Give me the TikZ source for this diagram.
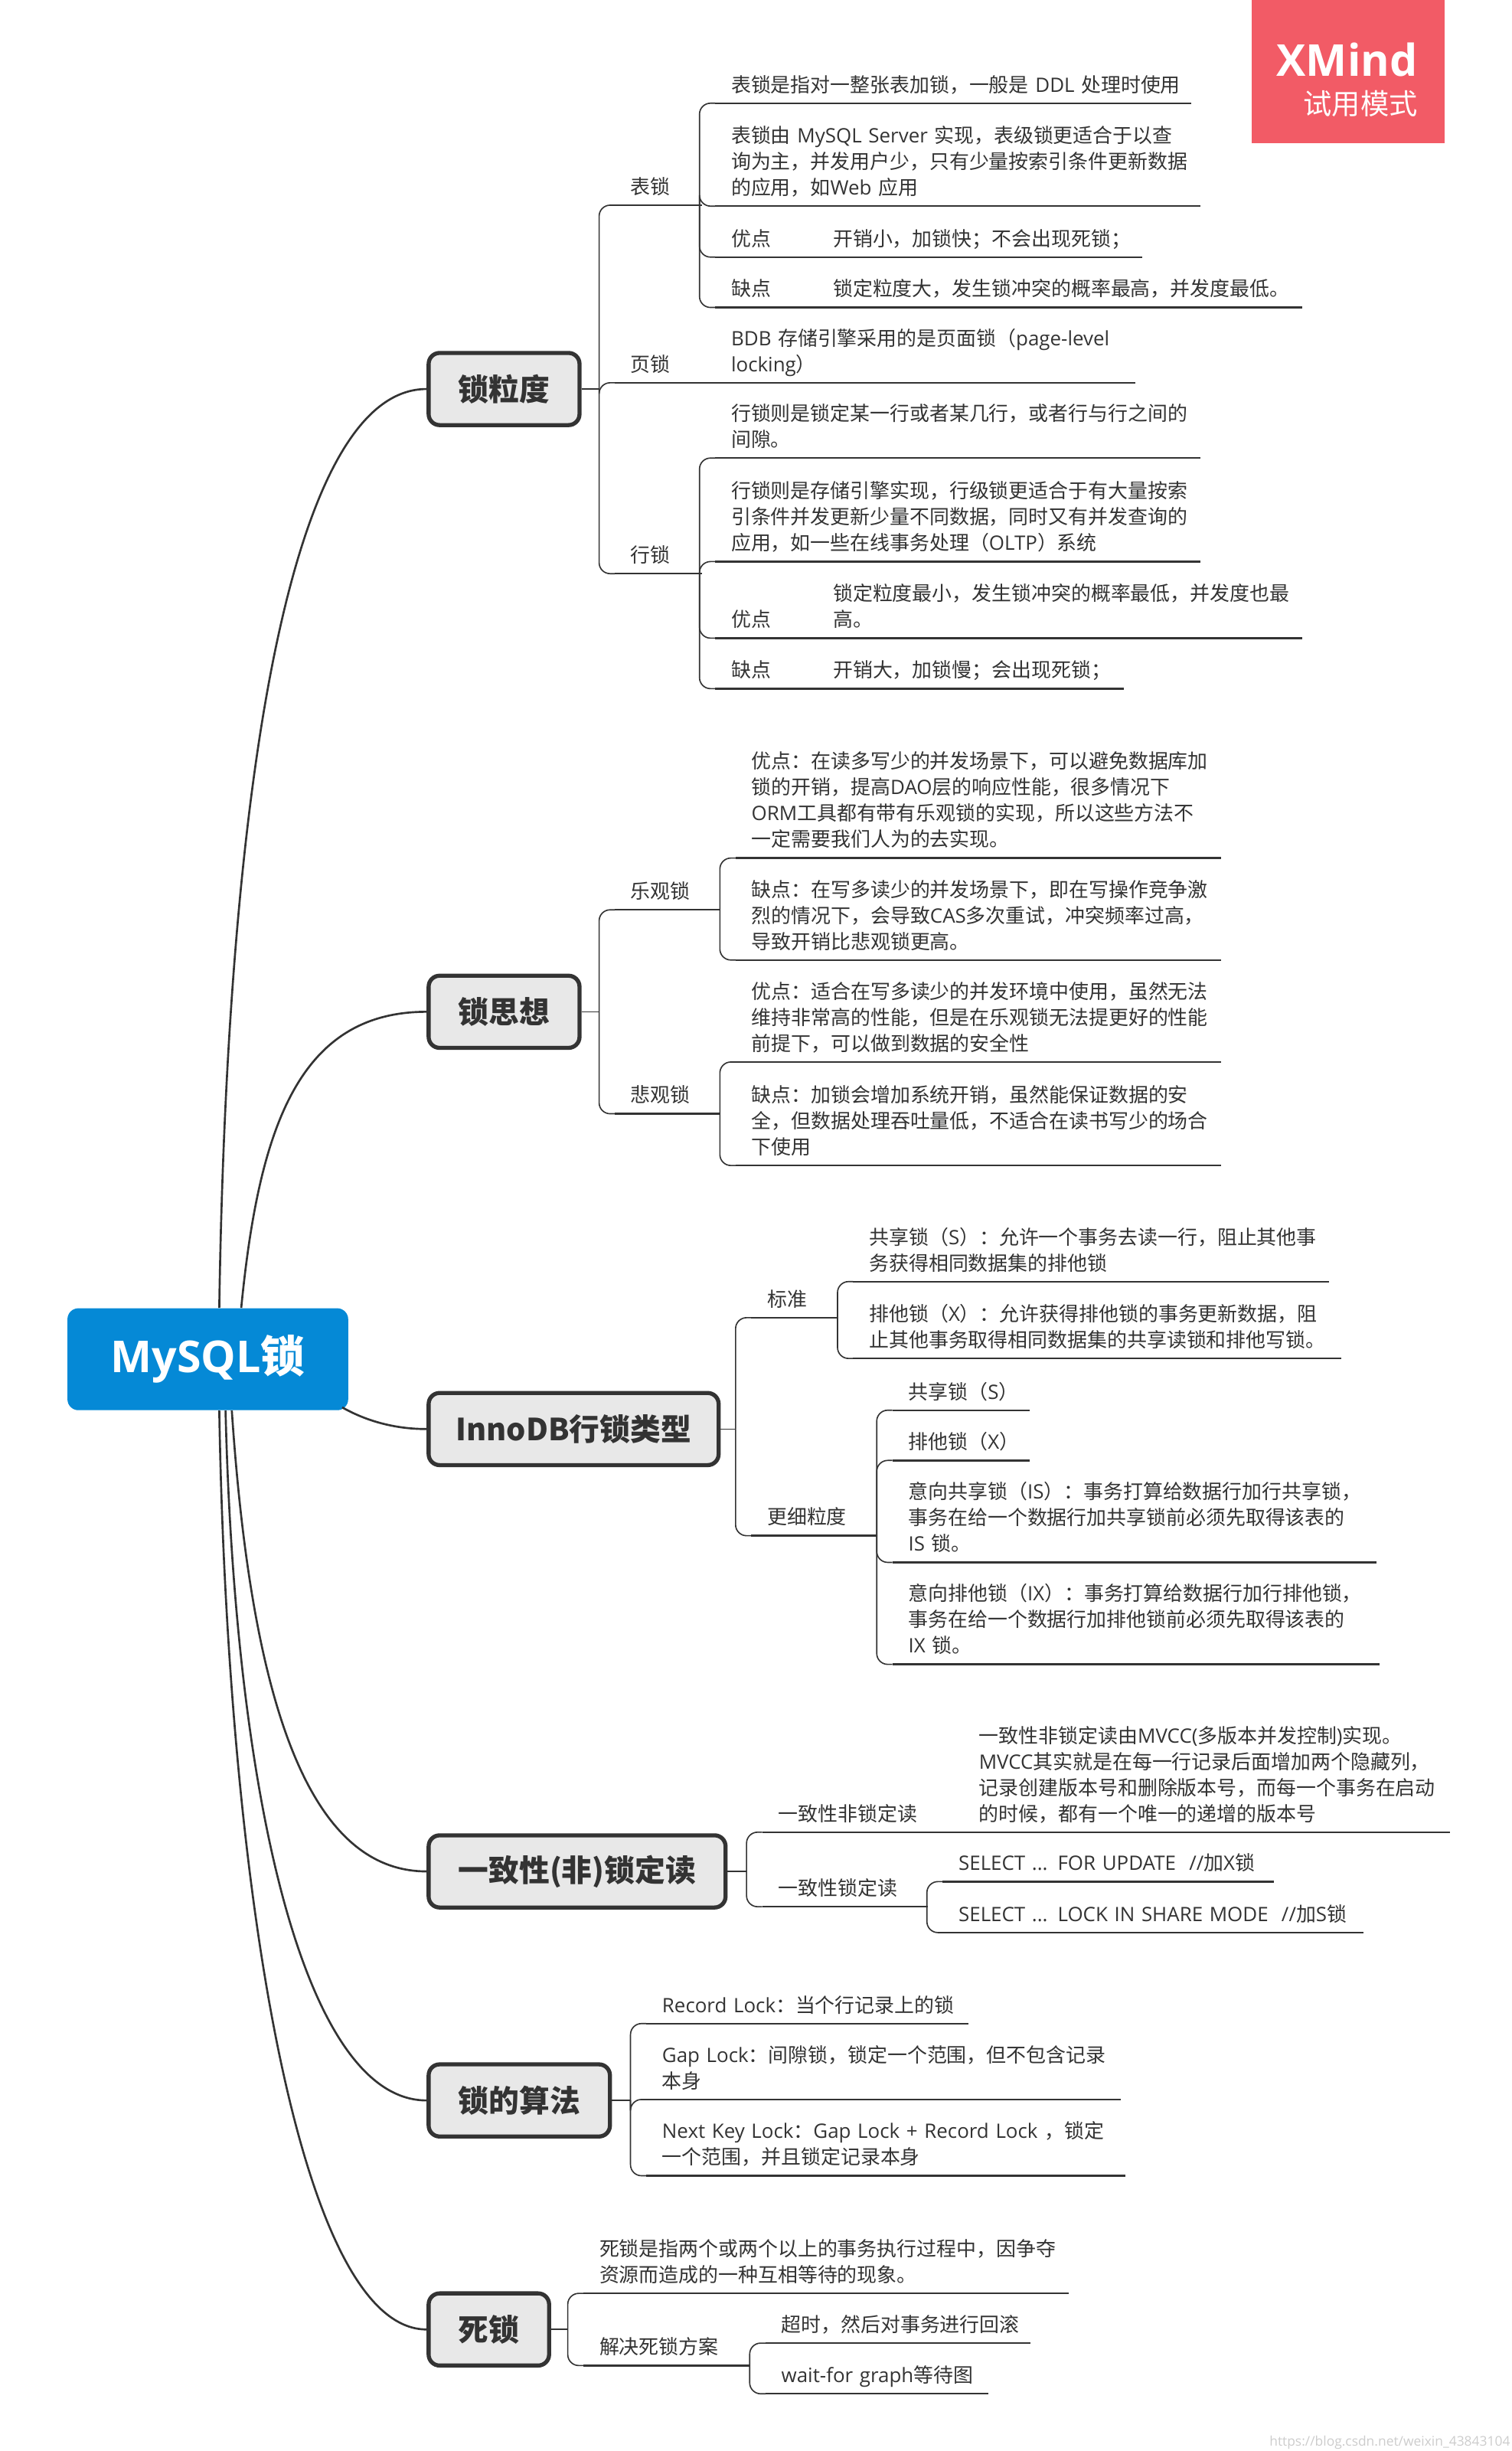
\documentclass[tikz,border=0pt]{standalone}
\usepackage{fontspec}
\setmainfont{Noto Sans CJK SC}
\newfontfamily\latfont{Open Sans}
\usepackage{xcolor}
\usetikzlibrary{calc}
\definecolor{ink}{HTML}{333333}
\definecolor{rootblue}{HTML}{0589D6}
\definecolor{topicgray}{HTML}{E8E8E8}
\definecolor{trialred}{HTML}{F25B66}
\tikzset{
  rootbox/.style={fill=rootblue, rounded corners=7pt, text=white, font=\fontsize{28}{32}\selectfont\bfseries, inner sep=0pt},
  topicbox/.style={draw=ink, line width=2.6pt, fill=topicgray, rounded corners=7pt, text=ink, minimum height=46pt, inner xsep=19pt, font=\fontsize{19.4}{24}\selectfont\bfseries},
  leaf/.style={anchor=south west, align=left, inner xsep=10pt, inner ysep=2pt, text=ink, font=\fontsize{12.65}{16.6}\selectfont},
  rootline/.style={draw=ink, line width=1.3pt},
  branch/.style={draw=ink, line width=.8pt},
  underl/.style={draw=ink, line width=1.2pt}
}
\newcommand{\en}[1]{{\latfont #1}}
\newcommand{\leaf}[4]{\node[leaf, text width=#3pt-20pt] (#1) at #2 {\makebox[\linewidth][l]{\begin{tabular}[b]{@{}l@{}}#4\end{tabular}}};\draw[underl] (#1.south west)--(#1.south east);}
\newcommand{\twig}[2]{\foreach \kid in {#2}{\draw[branch] (#1)--([xshift=-10pt]#1 -| \kid.south west);\draw[branch, rounded corners=7pt] ([xshift=-10pt]#1 -| \kid.south west) |- (\kid.south west);}}
\newcommand{\tag}[2]{\makebox[65pt][l]{#1}\begin{tabular}[b]{@{}l@{}}#2\end{tabular}}
\begin{document}
\begin{tikzpicture}[x=1pt,y=-1pt]
\useasboundingbox (0,0) rectangle (964,1562.5);
\node[fill=trialred, minimum width=123pt, minimum height=91pt, anchor=north west] (trial) at (798,0) {};
\node[anchor=east, text=white, font=\fontsize{28}{34}\selectfont\latfont\bfseries, inner sep=0pt] (trialname) at (904,38) {XMind};
\node[anchor=east, text=white, font=\fontsize{18.2}{22}\selectfont, inner sep=0pt] (trialmode) at (904,66) {试用模式};
\node[rootbox, minimum width=179pt, minimum height=65pt] (root) at (132.5,866.5) {\en{MySQL}锁};
\node[topicbox, anchor=west] (lidu) at (272,248) {锁粒度};
\node[topicbox, anchor=west] (sixiang) at (272,645) {锁思想};
\node[topicbox, anchor=west, inner xsep=17.5pt] (innodb) at (272,911) {InnoDB行锁类型};
\node[topicbox, anchor=west] (yizhi) at (272,1193) {一致性(非)锁定读};
\node[topicbox, anchor=west] (suanfa) at (272,1339) {锁的算法};
\node[topicbox, anchor=west] (sisuo) at (272,1485) {死锁};
\draw[rootline] ($(root.north west)+(97,0)$) .. controls (145,500) and (185,248) .. (lidu.west);
\draw[rootline] ($(root.north west)+(111,0)$) .. controls (165,720) and (190,645) .. (sixiang.west);
\draw[rootline] ($(root.south east)+(-4,-2)$) .. controls (232,905) and (250,911) .. (innodb.west);
\draw[rootline] ($(root.south west)+(105,0)$) .. controls (160,1080) and (195,1193) .. (yizhi.west);
\draw[rootline] ($(root.south west)+(101,0)$) .. controls (150,1150) and (195,1339) .. (suanfa.west);
\draw[rootline] ($(root.south west)+(97,0)$) .. controls (145,1200) and (190,1485) .. (sisuo.west);
% first topic
\leaf{biao}{(392,130.8)}{55}{表锁}
\leaf{ye}{(392,244)}{64}{页锁}
\leaf{hang}{(392,365.7)}{55}{行锁}
\twig{lidu.east}{biao,ye,hang}
\leaf{biaoa}{(456,65.8)}{303}{表锁是指对一整张表加锁，一般是 \en{DDL} 处理时使用}
\leaf{biaob}{(456,131.4)}{309}{表锁由 \en{MySQL Server} 实现，表级锁更适合于以查\\询为主，并发用户少，只有少量按索引条件更新数据\\的应用，如\en{Web} 应用}
\leaf{biaoc}{(456,163.9)}{272}{\tag{优点}{开销小，加锁快；不会出现死锁；}}
\leaf{biaod}{(456,196)}{374}{\tag{缺点}{锁定粒度大，发生锁冲突的概率最高，并发度最低。}}
\twig{biao.south east}{biaoa,biaob,biaoc,biaod}
\leaf{yea}{(456,244)}{267.6}{\en{BDB} 存储引擎采用的是页面锁（\en{page-level}\\\en{locking}）}
\draw[branch] (ye.south east)--(yea.south west);
\leaf{hanga}{(456,292)}{309}{行锁则是锁定某一行或者某几行，或者行与行之间的\\间隙。}
\leaf{hangb}{(456,358)}{309}{行锁则是存储引擎实现，行级锁更适合于有大量按索\\引条件并发更新少量不同数据，同时又有并发查询的\\应用，如一些在线事务处理（\en{OLTP}）系统}
\leaf{hangc}{(456,406.8)}{374}{\tag{优点}{锁定粒度最小，发生锁冲突的概率最低，并发度也最\\高。}}
\leaf{hangd}{(456,439)}{260}{\tag{缺点}{开销大，加锁慢；会出现死锁；}}
\twig{hang.south east}{hanga,hangb,hangc,hangd}
% second topic
\leaf{le}{(392,580)}{67}{乐观锁}
\leaf{bei}{(392,710)}{67}{悲观锁}
\twig{sixiang.east}{le,bei}
\leaf{lea}{(469,547)}{309}{优点：在读多写少的并发场景下，可以避免数据库加\\锁的开销，提高\en{DAO}层的响应性能，很多情况下\\\en{ORM}工具都有带有乐观锁的实现，所以这些方法不\\一定需要我们人为的去实现。}
\leaf{leb}{(469,612)}{309}{缺点：在写多读少的并发场景下，即在写操作竞争激\\烈的情况下，会导致\en{CAS}多次重试，冲突频率过高，\\导致开销比悲观锁更高。}
\twig{le.south east}{lea,leb}
\leaf{beia}{(469,677)}{309}{优点：适合在写多读少的并发环境中使用，虽然无法\\维持非常高的性能，但是在乐观锁无法提更好的性能\\前提下，可以做到数据的安全性}
\leaf{beib}{(469,743)}{309}{缺点：加锁会增加系统开销，虽然能保证数据的安\\全，但数据处理吞吐量低，不适合在读书写少的场合\\下使用}
\twig{bei.south east}{beia,beib}
% third topic
\leaf{biaozhun}{(479,840)}{55}{标准}
\leaf{xi}{(479,979)}{80}{更细粒度}
\twig{innodb.east}{biaozhun,xi}
\leaf{bza}{(544,817)}{303}{共享锁（\en{S}）：允许一个事务去读一行，阻止其他事\\务获得相同数据集的排他锁}
\leaf{bzb}{(544,866)}{311}{排他锁（\en{X}）：允许获得排他锁的事务更新数据，阻\\止其他事务取得相同数据集的共享读锁和排他写锁。}
\twig{biaozhun.south east}{bza,bzb}
\leaf{xia}{(569,899)}{87}{共享锁（\en{S}）}
\leaf{xib}{(569,931)}{87}{排他锁（\en{X}）}
\leaf{xic}{(569,996)}{308}{意向共享锁（\en{IS}）：事务打算给数据行加行共享锁，\\事务在给一个数据行加共享锁前必须先取得该表的\\\en{IS} 锁。}
\leaf{xid}{(569,1061)}{310}{意向排他锁（\en{IX}）：事务打算给数据行加行排他锁，\\事务在给一个数据行加排他锁前必须先取得该表的\\\en{IX} 锁。}
\twig{xi.south east}{xia,xib,xic,xid}
% fourth topic
\leaf{fei}{(486,1168)}{128}{一致性非锁定读}
\leaf{suo}{(486,1215.5)}{105}{一致性锁定读}
\twig{yizhi.east}{fei,suo}
\leaf{feia}{(614,1168)}{310}{一致性非锁定读由\en{MVCC(}多版本并发控制\en{)}实现。\\\en{MVCC}其实就是在每一行记录后面增加两个隐藏列，\\记录创建版本号和删除版本号，而每一个事务在启动\\的时候，都有一个唯一的递增的版本号}
\draw[branch] (fei.south east)--(feia.south west);
\leaf{suoa}{(601,1199.5)}{211}{\en{SELECT ... FOR UPDATE~~//}加\en{X}锁}
\leaf{suob}{(601,1232)}{268}{\en{SELECT ... LOCK IN SHARE MODE~~//}加\en{S}锁}
\twig{suo.south east}{suoa,suob}
% fifth topic
\leaf{sfa}{(412,1290)}{205}{\en{Record Lock}：当个行记录上的锁}
\leaf{sfb}{(412,1338.4)}{302}{\en{Gap Lock}：间隙锁，锁定一个范围，但不包含记录\\本身}
\leaf{sfc}{(412,1387)}{305}{\en{Next Key Lock}：\en{Gap Lock + Record Lock} ，锁定\\一个范围，并且锁定记录本身}
\twig{suanfa.east}{sfa,sfb,sfc}
% last topic
\leaf{ssa}{(372,1462)}{309}{死锁是指两个或两个以上的事务执行过程中，因争夺\\资源而造成的一种互相等待的现象。}
\leaf{ssb}{(372,1508)}{106}{解决死锁方案}
\twig{sisuo.east}{ssa,ssb}
\leaf{ssba}{(488,1493.7)}{168.5}{超时，然后对事务进行回滚}
\leaf{ssbb}{(488,1526)}{142}{\en{wait-for graph}等待图}
\twig{ssb.south east}{ssba,ssbb}
\node[anchor=south east, inner sep=1pt, text=black!20, font=\fontsize{8.5}{10}\selectfont\latfont] (mark) at (964,1562.5) {https://blog.csdn.net/weixin\_43843104};
\end{tikzpicture}
\end{document}
